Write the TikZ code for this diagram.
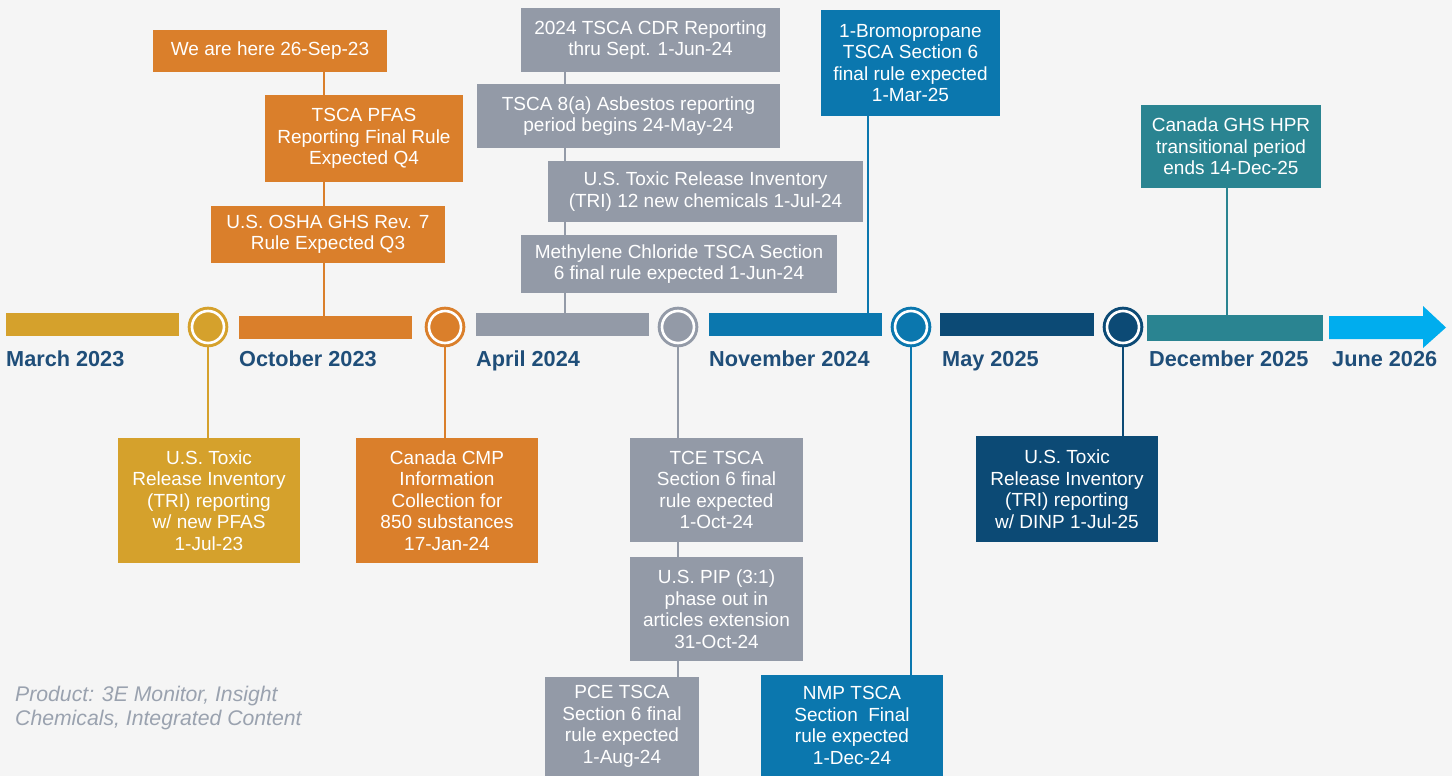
\documentclass[tikz,border=0pt]{standalone}
\usepackage{fontspec}
\setmainfont{Liberation Sans}
\usetikzlibrary{backgrounds}
\definecolor{cgold}{HTML}{D5A12C}
\definecolor{corange}{HTML}{DA7F2B}
\definecolor{cgrey}{HTML}{939AA7}
\definecolor{cblue}{HTML}{0B77AE}
\definecolor{cnavy}{HTML}{0C4A75}
\definecolor{cteal}{HTML}{2A8491}
\definecolor{ccyan}{HTML}{00ADEE}
\definecolor{cdate}{HTML}{1F4E79}
\definecolor{cnote}{HTML}{9AA2AF}
\definecolor{cback}{HTML}{F5F5F5}
\tikzset{
  every picture/.style={x=1pt, y=-1pt},
  event/.style={fill=#1, text=white, align=center, inner sep=0pt, font=\fontsize{19}{21.5}\selectfont},
  bar/.style={fill=#1, inner sep=0pt, minimum height=23pt},
  dot/.style={circle, draw=#1, double=white, double distance=2.6pt, line width=3pt, fill=#1, minimum size=32pt, inner sep=0pt},
  link/.style={draw=#1, line width=2.7pt},
  date/.style={text=cdate, font=\fontsize{21.7}{25}\selectfont\bfseries, anchor=base west, inner sep=0pt},
  note/.style={text=cnote, font=\fontsize{21.2}{24}\selectfont\itshape, align=left, anchor=north west, inner sep=0pt},
}
\begin{document}
\begin{tikzpicture}
  \useasboundingbox (0,0) rectangle (1452,776);
  % timeline
  \node[bar=cgold, minimum width=173pt] (bar1) at (92.5,324.5) {};
  \node[bar=corange, minimum width=173pt] (bar2) at (325.5,327.5) {};
  \node[bar=cgrey, minimum width=173pt] (bar3) at (562.5,324.5) {};
  \node[bar=cblue, minimum width=173pt] (bar4) at (795.5,324.5) {};
  \node[bar=cnavy, minimum width=154pt] (bar5) at (1017,324.5) {};
  \node[bar=cteal, minimum width=176pt, minimum height=26pt] (bar6) at (1235,328) {};
  \fill[ccyan] (1329,316) -- (1423,316) -- (1423,306) -- (1446,327.5) -- (1423,348) -- (1423,339) -- (1329,339) -- cycle;
  \node[dot=cgold] (dot1) at (208,327) {};
  \node[dot=corange] (dot2) at (445,327) {};
  \node[dot=cgrey] (dot3) at (678,327) {};
  \node[dot=cblue] (dot4) at (911,327) {};
  \node[dot=cnavy] (dot5) at (1123,327) {};
  \node[date] (lab1) at (6,366) {March 2023};
  \node[date] (lab2) at (239,366) {October 2023};
  \node[date] (lab3) at (476,366) {April 2024};
  \node[date] (lab4) at (709,366) {November 2024};
  \node[date] (lab5) at (942,366) {May 2025};
  \node[date] (lab6) at (1149,366) {December 2025};
  \node[date] (lab7) at (1332,366) {June 2026};
  % above the line
  \node[event=corange, minimum width=234pt, minimum height=42pt] (here) at (270,51) {We are here 26-Sep-23};
  \node[event=corange, minimum width=198pt, minimum height=87pt] (pfas) at (364,138.5) {TSCA PFAS\\Reporting Final Rule\\Expected Q4};
  \node[event=corange, minimum width=234pt, minimum height=57pt] (osha) at (328,234.5) {U.S. OSHA GHS Rev. 7\\Rule Expected Q3};
  \node[event=cgrey, minimum width=259pt, minimum height=64pt] (cdr) at (650.5,40) {2024 TSCA CDR Reporting\\thru Sept. 1-Jun-24};
  \node[event=cgrey, minimum width=303pt, minimum height=64pt] (asb) at (628.5,116) {TSCA 8(a) Asbestos reporting\\period begins 24-May-24};
  \node[event=cgrey, minimum width=315pt, minimum height=61pt] (tri12) at (705.5,191.5) {U.S. Toxic Release Inventory\\(TRI) 12 new chemicals 1-Jul-24};
  \node[event=cgrey, minimum width=316pt, minimum height=58pt] (mecl) at (679,264) {Methylene Chloride TSCA Section\\6 final rule expected 1-Jun-24};
  \node[event=cblue, minimum width=179pt, minimum height=106pt] (bromo) at (910.5,63) {1-Bromopropane\\TSCA Section 6\\final rule expected\\1-Mar-25};
  \node[event=cteal, minimum width=180pt, minimum height=83pt] (hpr) at (1231,146.5) {Canada GHS HPR\\transitional period\\ends 14-Dec-25};
  % below the line
  \node[event=cgold, minimum width=182pt, minimum height=125pt] (tripfas) at (209,500.5) {U.S. Toxic\\Release Inventory\\(TRI) reporting\\w/ new PFAS\\1-Jul-23};
  \node[event=corange, minimum width=182pt, minimum height=125pt] (cmp) at (447,500.5) {Canada CMP\\Information\\Collection for\\850 substances\\17-Jan-24};
  \node[event=cgrey, minimum width=173pt, minimum height=104pt] (tce) at (716.5,490) {TCE TSCA\\Section 6 final\\rule expected\\1-Oct-24};
  \node[event=cgrey, minimum width=173pt, minimum height=104pt] (pip) at (716.5,609) {U.S. PIP (3:1)\\phase out in\\articles extension\\31-Oct-24};
  \node[event=cgrey, minimum width=154pt, minimum height=99pt] (pce) at (622,726.5) {PCE TSCA\\Section 6 final\\rule expected\\1-Aug-24};
  \node[event=cblue, minimum width=182pt, minimum height=101pt] (nmp) at (852,725.5) {NMP TSCA\\Section~~Final\\rule expected\\1-Dec-24};
  \node[event=cnavy, minimum width=182pt, minimum height=106pt] (dinp) at (1067,489) {U.S. Toxic\\Release Inventory\\(TRI) reporting\\w/ DINP 1-Jul-25};
  \node[note] (product) at (15,686) {Product: 3E Monitor, Insight\\Chemicals, Integrated Content};
  \begin{pgfonlayer}{background}
    \fill[cback] (0,0) rectangle (1452,776);
    \draw[link=corange] ([xshift=-1.5pt]bar2.north) -- ([xshift=-1.5pt]bar2.north |- here.south);
    \draw[link=cgrey] ([xshift=2.5pt]bar3.north) -- ([xshift=2.5pt]bar3.north |- cdr.south);
    \draw[link=cblue] ([xshift=-42.5pt]bromo.south) -- ([xshift=-42.5pt]bromo.south |- bar4.north);
    \draw[link=cteal] ([xshift=-4pt]hpr.south) -- ([xshift=-4pt]hpr.south |- bar6.north);
    \draw[link=cgold] (dot1.south) -- (dot1.south |- tripfas.north);
    \draw[link=corange] (dot2.south) -- (dot2.south |- cmp.north);
    \draw[link=cgrey] (dot3.south) -- (dot3.south |- pce.north);
    \draw[link=cblue] (dot4.south) -- (dot4.south |- nmp.north);
    \draw[link=cnavy] (dot5.south) -- (dot5.south |- dinp.north);
  \end{pgfonlayer}
\end{tikzpicture}
\end{document}
